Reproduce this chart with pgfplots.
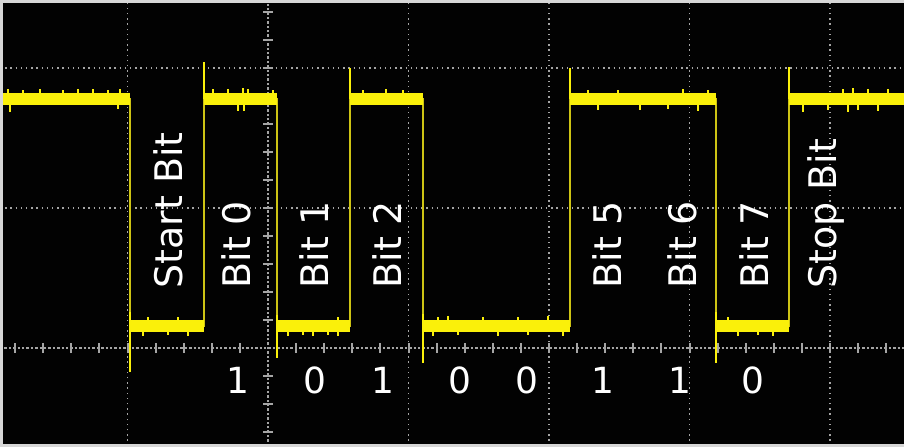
\documentclass[border=0pt]{standalone}
\usepackage{pgfplots}
\pgfplotsset{compat=1.18}
\usepackage{fontspec}
\setmainfont{DejaVu Sans}
\definecolor{scopebg}{RGB}{2,2,2}
\definecolor{trace}{RGB}{250,240,10}
\definecolor{edge}{RGB}{205,195,20}
\definecolor{gridc}{RGB}{165,165,165}
\definecolor{frame}{RGB}{215,215,215}

\begin{document}
\begin{tikzpicture}
\begin{axis}[
    name=ax,
    scale only axis,
    width=452pt, height=223pt,
    xmin=-268, xmax=636,
    ymin=-98, ymax=348,
    axis background/.style={fill=scopebg, draw=scopebg, line width=3pt},
    axis x line*=middle, axis y line*=middle,
    axis line style={gridc, line width=0.7pt, dash pattern=on 1.2pt off 1pt},
    xtick={-281,-140.5,0,140.5,281,421.5,562,702.5},
    ytick={-140,0,140,280,420},
    minor tick num=4,
    xticklabels={}, yticklabels={},
    tick align=center,
    major tick length=5pt, minor tick length=5pt,
    tick style={gridc, line width=1pt, solid},
    grid=major,
    grid style={gridc, line width=0.7pt, dash pattern=on 0.7pt off 1.9pt},
    unbounded coords=jump,
    clip=true,
]

% thin trace through all edges
\addplot[edge, line width=0.6pt, line join=miter] coordinates {
  (-268,249) (-138,249) (-138,22) (-64,22) (-64,249) (9,249) (9,22)
  (82,22) (82,249) (155,249) (155,22) (302,22) (302,249) (448,249)
  (448,22) (521,22) (521,249) (636,249)
};

% overshoot at the edges
\addplot[trace, line width=1.1pt] coordinates {
  (-64,249) (-64,286) (-64,nan)
  (82,249) (82,280) (82,nan)
  (302,249) (302,280) (302,nan)
  (521,249) (521,281) (521,nan)
  (-138,22) (-138,-24) (-138,nan)
  (9,22) (9,-10) (9,nan)
  (155,22) (155,-15) (155,nan)
  (448,22) (448,-15) (448,nan)
  (-138,22) (-138,36) (-138,nan)
  (9,22) (9,33) (9,nan)
  (155,22) (155,34) (155,nan)
  (448,22) (448,36)
};

% thick high and low levels
\addplot[trace, line width=6pt, line cap=butt] coordinates {
  (-268,249) (-138,249) (-138,nan)
  (-64,249) (9,249) (9,nan)
  (82,249) (155,249) (155,nan)
  (302,249) (448,249) (448,nan)
  (521,249) (636,249) (636,nan)
  (-138,22) (-64,22) (-64,nan)
  (9,22) (82,22) (82,nan)
  (155,22) (302,22) (302,nan)
  (448,22) (521,22)
};

% noise on the levels
\addplot[trace, line width=0.8pt] coordinates {
  (-260,249) (-260,259) (-260,nan)
  (-245,249) (-245,258) (-245,nan)
  (-228,249) (-228,259) (-228,nan)
  (-205,249) (-205,258) (-205,nan)
  (-190,249) (-190,259) (-190,nan)
  (-175,249) (-175,259) (-175,nan)
  (-160,249) (-160,258) (-160,nan)
  (-148,249) (-148,259) (-148,nan)
  (-258,249) (-258,236) (-258,nan)
  (-150,249) (-150,239) (-150,nan)
  (-55,249) (-55,259) (-55,nan)
  (-40,249) (-40,259) (-40,nan)
  (-25,249) (-25,260) (-25,nan)
  (-20,249) (-20,259) (-20,nan)
  (5,249) (5,258) (5,nan)
  (-30,249) (-30,237) (-30,nan)
  (-24,249) (-24,237) (-24,nan)
  (95,249) (95,258) (95,nan)
  (118,249) (118,259) (118,nan)
  (135,249) (135,258) (135,nan)
  (320,249) (320,258) (320,nan)
  (350,249) (350,258) (350,nan)
  (415,249) (415,259) (415,nan)
  (440,249) (440,258) (440,nan)
  (330,249) (330,238) (330,nan)
  (372,249) (372,238) (372,nan)
  (400,249) (400,239) (400,nan)
  (430,249) (430,237) (430,nan)
  (575,249) (575,259) (575,nan)
  (585,249) (585,260) (585,nan)
  (600,249) (600,259) (600,nan)
  (620,249) (620,259) (620,nan)
  (535,249) (535,236) (535,nan)
  (560,249) (560,238) (560,nan)
  (580,249) (580,236) (580,nan)
  (590,249) (590,238) (590,nan)
  (610,249) (610,237) (610,nan)
  (-120,22) (-120,31) (-120,nan)
  (-90,22) (-90,31) (-90,nan)
  (-125,22) (-125,12) (-125,nan)
  (-100,22) (-100,13) (-100,nan)
  (-80,22) (-80,12) (-80,nan)
  (20,22) (20,12) (20,nan)
  (35,22) (35,13) (35,nan)
  (45,22) (45,12) (45,nan)
  (60,22) (60,13) (60,nan)
  (70,22) (70,12) (70,nan)
  (70,22) (70,31) (70,nan)
  (170,22) (170,31) (170,nan)
  (180,22) (180,32) (180,nan)
  (215,22) (215,31) (215,nan)
  (250,22) (250,31) (250,nan)
  (280,22) (280,32) (280,nan)
  (165,22) (165,12) (165,nan)
  (190,22) (190,13) (190,nan)
  (230,22) (230,12) (230,nan)
  (260,22) (260,13) (260,nan)
  (295,22) (295,12) (295,nan)
  (460,22) (460,31) (460,nan)
  (470,22) (470,12) (470,nan)
  (490,22) (490,13) (490,nan)
  (505,22) (505,12)
};

% frame of the screen (top, left, bottom)
\draw[frame, line width=2pt] (rel axis cs:0,0) -- (rel axis cs:1,0);
\draw[frame, line width=3pt] (rel axis cs:0,0) -- (rel axis cs:0,1) -- (rel axis cs:1,1);

% bit names
\foreach \x/\t in {-100/Start Bit, -32/Bit 0, 46/Bit 1, 119/Bit 2, 339/Bit 5, 414/Bit 6, 486/Bit 7, 558/Stop Bit}{
  \edef\temp{\noexpand\node[rotate=90, anchor=west, inner sep=0pt, text=white,
    font=\noexpand\fontsize{19}{22}\noexpand\selectfont] at (axis cs:\x,59) {\t};}
  \temp
}

% bit values
\foreach \x/\t in {-30/1, 47/0, 115/1, 192/0, 259/0, 335/1, 412/1, 485/0}{
  \edef\temp{\noexpand\node[inner sep=0pt, text=white,
    font=\noexpand\fontsize{18}{20}\noexpand\selectfont] at (axis cs:\x,-32) {\t};}
  \temp
}
\end{axis}
\pgfresetboundingbox
\path[use as bounding box] (ax.south west) rectangle (ax.north east);
\end{tikzpicture}
\end{document}
